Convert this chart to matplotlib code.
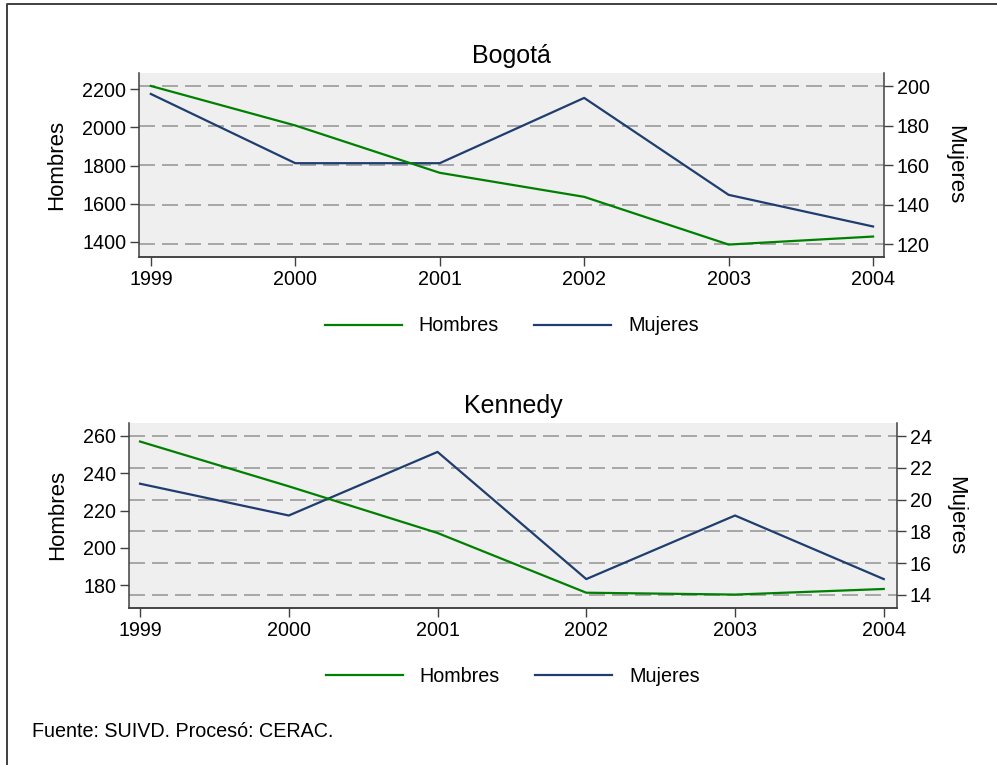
import matplotlib
matplotlib.use('Agg')
import matplotlib.pyplot as plt
from matplotlib.lines import Line2D

years = [1999, 2000, 2001, 2002, 2003, 2004]

# Bogotá
bog_hombres = [2217, 2010, 1762, 1636, 1386, 1428]
bog_mujeres = [196, 161, 161, 194, 145, 129]

# Kennedy
ken_hombres = [257, 233, 208, 176, 175, 178]
ken_mujeres = [21, 19, 23, 15, 19, 15]

left_ticks_bog = [1400, 1600, 1800, 2000, 2200]
right_ticks_bog = [120, 140, 160, 180, 200]
left_ticks_ken = [180, 200, 220, 240, 260]
right_ticks_ken = [14, 16, 18, 20, 22, 24]

green = '#008000'
navy = '#1f3d6e'
bg = '#efefef'
spine_c = '#404040'

plt.rcParams['font.family'] = ['Liberation Sans', 'DejaVu Sans']

fig = plt.figure(figsize=(9.97, 7.65), dpi=100)


def panel(rect, title, hombres, mujeres, lticks, rticks, lylim, rylim, xlim, leg_y):
    ax = fig.add_axes(rect)
    ax2 = ax.twinx()
    # put the primary axis on top so the grid of ax2 stays behind both lines
    ax.set_zorder(ax2.get_zorder() + 1)
    ax.patch.set_visible(False)
    ax2.patch.set_visible(True)
    ax2.patch.set_facecolor(bg)

    ax.plot(years, hombres, color=green, lw=1.6)
    ax2.plot(years, mujeres, color=navy, lw=1.6)

    ax.set_xlim(xlim)
    ax.set_ylim(lylim)
    ax2.set_ylim(rylim)
    ax.set_xticks(years)
    ax.set_yticks(lticks)
    ax2.set_yticks(rticks)

    ax2.grid(axis='y', color='#9a9a9a', lw=1.2, linestyle=(0, (9.6, 4.2)))
    ax2.set_axisbelow(True)

    for a in (ax, ax2):
        a.spines['top'].set_visible(False)
        for s in ('left', 'right', 'bottom'):
            a.spines[s].set_color(spine_c)
            a.spines[s].set_linewidth(1.1)
        a.tick_params(axis='both', labelsize=14.2, length=6.3, width=1.0,
                      color=spine_c, pad=3)
    ax.spines['right'].set_visible(False)
    ax2.spines['left'].set_visible(False)

    ax.set_title(title, fontsize=18, pad=7)
    ax.set_ylabel('Hombres', fontsize=16, labelpad=11)
    ax2.set_ylabel('Mujeres', fontsize=16, rotation=270, labelpad=25)

    handles = [Line2D([], [], color=green, lw=1.6),
               Line2D([], [], color=navy, lw=1.6)]
    ax.legend(handles, ['Hombres', 'Mujeres'], loc='center',
              bbox_to_anchor=(0.5, leg_y), ncol=2, frameon=False,
              fontsize=14.2, handlelength=3.9, handletextpad=0.85,
              columnspacing=1.8)
    return ax, ax2


panel([0.1397, 0.6641, 0.7470, 0.2405], 'Bogotá', bog_hombres, bog_mujeres,
      left_ticks_bog, right_ticks_bog, (1321, 2285), (113.6, 206.6),
      (1998.92, 2004.076), -0.375)

panel([0.1294, 0.2052, 0.7700, 0.2423], 'Kennedy', ken_hombres, ken_mujeres,
      left_ticks_ken, right_ticks_ken, (167.8, 267.1), (13.18, 24.84),
      (1998.926, 2004.087), -0.371)

fig.text(31.7 / 997, 1 - 737 / 765, 'Fuente: SUIVD. Procesó: CERAC.',
         fontsize=14.2, va='baseline', ha='left')

# outer frame (only top and left edges fall inside the image)
fig.add_artist(Line2D([7 / 997, 7 / 997, 1.0], [0.0, 1 - 4 / 765, 1 - 4 / 765],
                      transform=fig.transFigure, color='#404040', lw=1.4))

plt.savefig('out.png', dpi=100)
